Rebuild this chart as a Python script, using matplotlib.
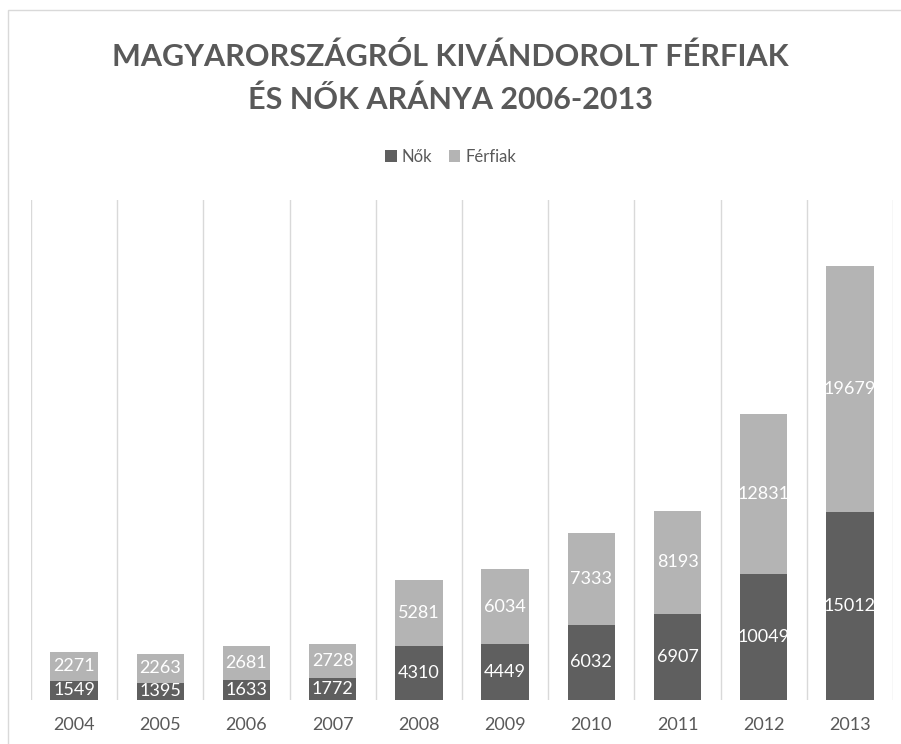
import matplotlib
matplotlib.use("Agg")
import matplotlib.pyplot as plt
from matplotlib.patches import Rectangle
import numpy as np

years = ["2004", "2005", "2006", "2007", "2008", "2009", "2010", "2011", "2012", "2013"]
nok = [1549, 1395, 1633, 1772, 4310, 4449, 6032, 6907, 10049, 15012]
ferfiak = [2271, 2263, 2681, 2728, 5281, 6034, 7333, 8193, 12831, 19679]

dark = "#5f5f5f"
light = "#b4b4b4"
text_col = "#595959"
grid_col = "#d9d9d9"

plt.rcParams['font.family'] = ['Lato', 'DejaVu Sans']

fig = plt.figure(figsize=(9.01, 7.44), dpi=100)
W, H = 901, 744
ax = fig.add_axes([31 / W, 44 / H, (893 - 31) / W, 500 / H])

x = np.arange(len(years))
bw = 0.55
b1 = ax.bar(x, nok, bw, color=dark, label="Nők")
b2 = ax.bar(x, ferfiak, bw, bottom=nok, color=light, label="Férfiak")

for bars, vals, bottoms in [(b1, nok, [0] * len(nok)), (b2, ferfiak, nok)]:
    for xi, v, b in zip(x, vals, bottoms):
        ax.text(xi, b + v / 2, str(v), ha="center", va="center",
                color="white", fontsize=13)

ax.set_xlim(-0.5, len(years) - 0.5)
ax.set_ylim(0, 40000)
ax.set_yticks([])
ax.set_xticks(x)
ax.set_xticklabels(years, fontsize=13, color=text_col)
ax.tick_params(axis="x", length=0, pad=12)
for s in ax.spines.values():
    s.set_visible(False)

# vertical separators between categories
for b in np.arange(-0.5, len(years), 1.0):
    ax.axvline(b, color=grid_col, lw=1, zorder=0)

fig.text(0.5, 1 - 57 / H, "MAGYARORSZÁGRÓL KIVÁNDOROLT FÉRFIAK",
         ha="center", va="center", fontsize=22, fontweight="bold", color=text_col)
fig.text(0.5, 1 - 100 / H, "ÉS NŐK ARÁNYA 2006-2013",
         ha="center", va="center", fontsize=22, fontweight="bold", color=text_col)

fig.legend(handles=[b1, b2], loc="center", bbox_to_anchor=(0.5, 1 - 157 / H),
           ncol=2, frameon=False, fontsize=12, handlelength=0.7, handleheight=0.7,
           handletextpad=0.3, columnspacing=1.0, labelcolor=text_col)

# chart border
fig.patches.append(Rectangle((8 / W, -0.05), 1.2, 1 - 10 / H + 0.05,
                             transform=fig.transFigure, fill=False,
                             edgecolor=grid_col, lw=1))

fig.savefig("out.png", dpi=100)
